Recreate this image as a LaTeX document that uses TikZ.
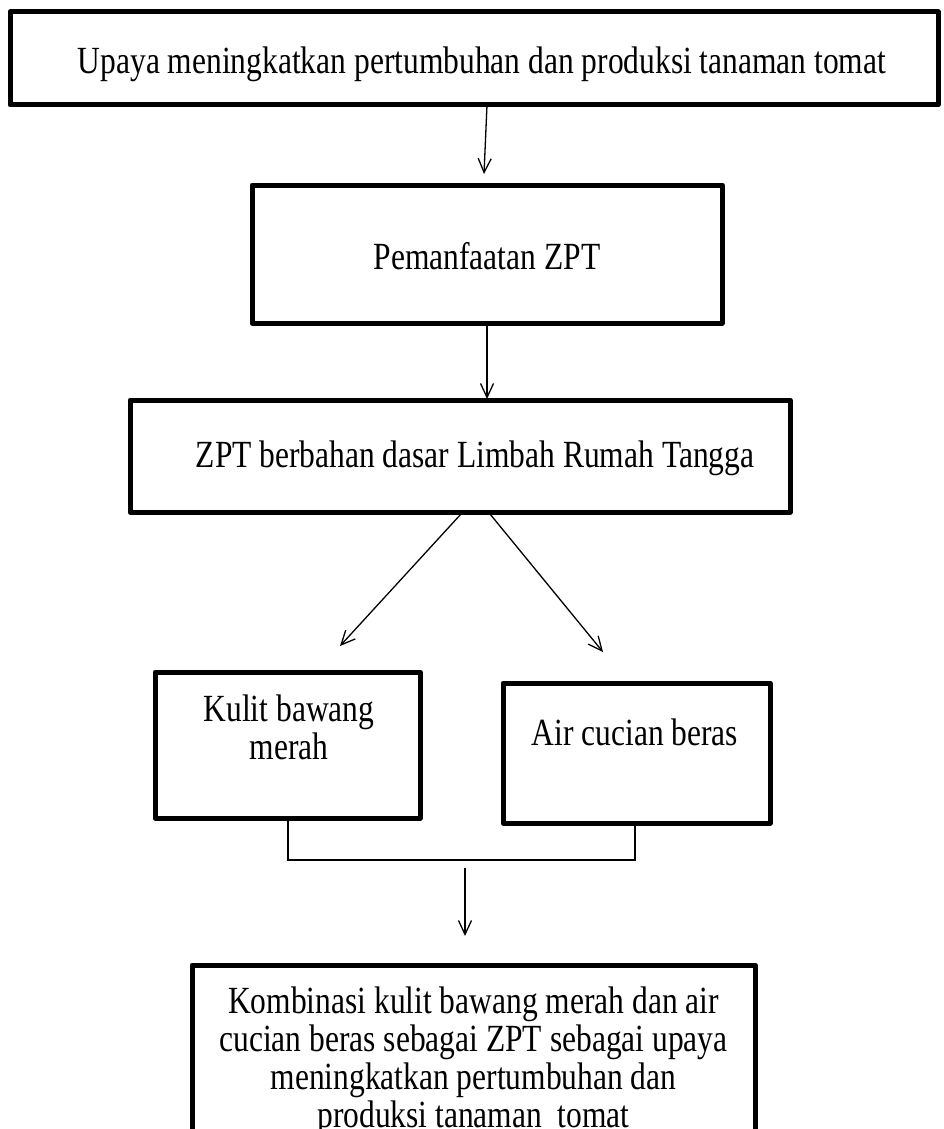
\documentclass[tikz,border=0pt]{standalone}
\usepackage{fontspec}
\setmainfont{Liberation Serif}
\usetikzlibrary{arrows.meta}
\newcommand{\tall}[1]{\scalebox{1}[1.22]{\begin{tabular}{@{}c@{}}#1\end{tabular}}}
\begin{document}
\begin{tikzpicture}[x=1pt,y=-1pt,
  box/.style={draw,line width=5pt,line join=round,inner sep=0pt},
  txt/.style={font=\fontsize{31.5}{31}\selectfont,align=center,inner sep=0pt},
  arr/.style={line width=1.3pt,-{Straight Barb[length=14pt,width=13pt,line width=1.3pt]}},
  ln/.style={line width=1.3pt}]
\clip (0,0) rectangle (944,1129);
% boxes
\node[box,minimum width=928pt,minimum height=93pt] (top) at (474,58.5) {};
\node[txt] (toptxt) at (482,66) {\tall{Upaya meningkatkan pertumbuhan dan produksi tanaman tomat}};
\node[box,minimum width=470pt,minimum height=138pt] (b2) at (487,254) {};
\node[txt] (b2txt) at (487,262) {\tall{Pemanfaatan ZPT}};
\node[box,minimum width=660pt,minimum height=112pt] (b3) at (460,456) {};
\node[txt] (b3txt) at (475,460) {\tall{ZPT berbahan dasar Limbah Rumah Tangga}};
\node[box,minimum width=265pt,minimum height=146pt] (b4) at (287.5,745) {};
\node[txt] (b4txt) at (289,733) {\tall{Kulit bawang\\merah}};
\node[box,minimum width=267pt,minimum height=140pt] (b5) at (636.5,753) {};
\node[txt] (b5txt) at (635,738) {\tall{Air cucian beras}};
\node[box,minimum width=563pt,minimum height=300pt] (b6) at (473.5,1115) {};
\node[txt] (b6txt) at (473.5,1063) {\tall{Kombinasi kulit bawang merah dan air\\cucian beras sebagai ZPT sebagai upaya\\meningkatkan pertumbuhan dan\\produksi tanaman\ \ tomat}};
% connectors
\coordinate (a1s) at (487,105); \coordinate (a1e) at (484,174);
\draw[arr] (a1s) -- (a1e);
\coordinate (a2s) at (487,323); \coordinate (a2e) at (487,399);
\draw[arr] (a2s) -- (a2e);
\coordinate (a3s) at (461,514); \coordinate (a3e) at (340,646);
\draw[arr] (a3s) -- (a3e);
\coordinate (a4s) at (490,514); \coordinate (a4e) at (603,652);
\draw[arr] (a4s) -- (a4e);
\coordinate (j) at (288,860);
\draw[ln] (b4.south -| j) -- (j) -- (j -| 635,0) -- (b5.south -| 635,0);
\coordinate (a5s) at (465,868); \coordinate (a5e) at (465,936);
\draw[arr] (a5s) -- (a5e);
\end{tikzpicture}
\end{document}
